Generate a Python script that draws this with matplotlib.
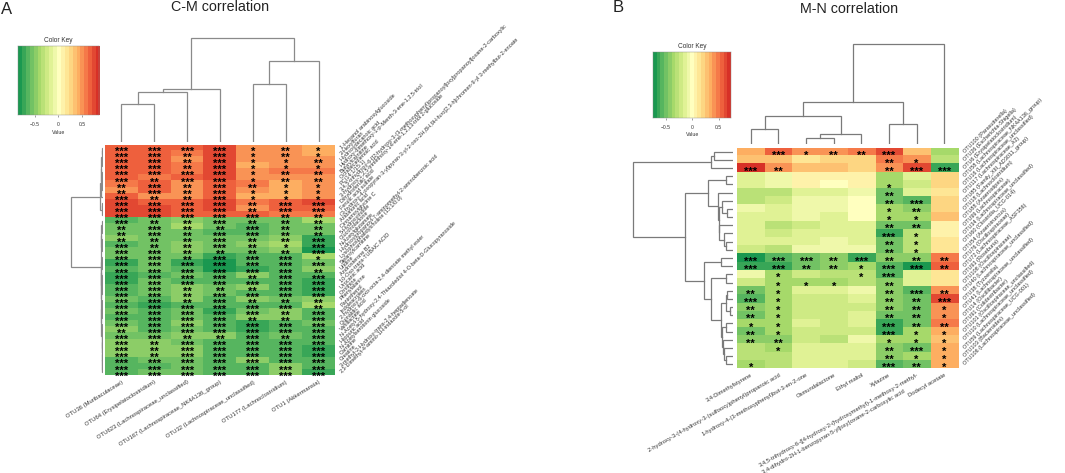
import numpy as np
import matplotlib
matplotlib.use("Agg")
import matplotlib.pyplot as plt
from matplotlib.colors import LinearSegmentedColormap
from matplotlib.transforms import ScaledTranslation

plt.rcParams['font.family'] = ['Liberation Sans', 'DejaVu Sans']

W, H = 1065, 473

# panel A: correlation values, rows top to bottom
a_values = [
    [.62, .62, .62, .70, .47, .47, .40],
    [.62, .62, .58, .70, .47, .47, .42],
    [.62, .62, .50, .70, .47, .45, .50],
    [.62, .66, .55, .70, .40, .47, .45],
    [.62, .66, .60, .70, .47, .54, .58],
    [.66, .58, .64, .75, .47, .50, .50],
    [.56, .66, .52, .68, .55, .42, .45],
    [.52, .66, .52, .68, .47, .42, .45],
    [.62, .52, .50, .68, .42, .42, .45],
    [.74, .68, .66, .74, .60, .62, .70],
    [.76, .74, .66, .70, .50, .66, .68],
    [.76, .74, .62, .64, .64, .57, .55],
    [-.68, -.56, -.50, -.60, -.56, -.54, -.42],
    [-.56, -.58, -.40, -.56, -.64, -.54, -.58],
    [-.56, -.58, -.54, -.66, -.66, -.54, -.58],
    [-.46, -.56, -.54, -.60, -.58, -.46, -.70],
    [-.64, -.56, -.48, -.60, -.46, -.42, -.76],
    [-.54, -.58, -.48, -.54, -.54, -.52, -.78],
    [-.58, -.58, -.54, -.74, -.64, -.66, -.42],
    [-.76, -.58, -.72, -.78, -.62, -.68, -.56],
    [-.68, -.58, -.66, -.78, -.74, -.68, -.50],
    [-.72, -.68, -.60, -.68, -.50, -.66, -.64],
    [-.72, -.58, -.62, -.66, -.62, -.68, -.76],
    [-.66, -.58, -.50, -.58, -.52, -.68, -.76],
    [-.66, -.56, -.52, -.60, -.66, -.64, -.76],
    [-.56, -.66, -.46, -.62, -.52, -.54, -.46],
    [-.64, -.70, -.64, -.64, -.68, -.66, -.44],
    [-.54, -.66, -.54, -.74, -.60, -.48, -.62],
    [-.66, -.66, -.54, -.66, -.46, -.48, -.64],
    [-.54, -.68, -.52, -.64, -.76, -.62, -.60],
    [-.52, -.66, -.60, -.66, -.76, -.64, -.62],
    [-.54, -.56, -.50, -.50, -.64, -.58, -.64],
    [-.52, -.48, -.58, -.66, -.64, -.62, -.66],
    [-.52, -.48, -.52, -.66, -.64, -.64, -.72],
    [-.52, -.48, -.52, -.66, -.64, -.64, -.74],
    [-.64, -.58, -.58, -.66, -.52, -.62, -.64],
    [-.64, -.68, -.54, -.66, -.62, -.52, -.64],
    [-.64, -.54, -.54, -.66, -.62, -.52, -.72],
]

a_stars = [
    "3333121", "3323121", "3323112", "3323111", "3333122", "3233122",
    "2323211", "2323111", "3223111", "3333233", "3333233", "3333322",
    "3223222", "2322322", "2323322", "2223223", "3223213", "3322223",
    "3323331", "3333333", "3333332", "3333233", "3333333", "3322233",
    "3323333", "3323222", "3333332", "3333323", "3333223", "3333333",
    "2333333", "3322323", "3233333", "3233333", "3233333", "3333333",
    "3333333", "3333333",
]

a_cols = ["OTU36 (Muribaculaceae)", "OTU64 (Erysipelatoclostridium)",
          "OTU623 (Lachnospiraceae_unclassified)",
          "OTU167 (Lachnospiraceae_NK4A136_group)",
          "OTU32 (Lachnospiraceae_unclassified)",
          "OTU177 (Lachnoclostridium)", "OTU1 (Akkermansia)"]

a_rows = [
    "1-Hexanol arabinosylglucoside", "2-Hexylfuran", "Hydroxydecanoic acid",
    "Hydroxy-dimethoxy-1-p-Menth-3-ene-1,2,5-triol",
    "Butyrylcarnitine", "Octadecadienoic acid", "PC(14:1/15:1)",
    "3,4,5-trihydroxy-6-[[2-hydroxy-3-(3-methoxyphenyl)propanoyl]oxy]propanoyl]oxane-2-carboxylic",
    "3-hydroxy-1,2,5-trimethoxy-14-ene-1,2,13-triol 2-glucoside",
    "Dihydroferulic acid", "Ferulic acid sulfate",
    "(3-hydroxy-4-oxopyran-3-yl)pyran-3-yl-2-oxo-2H,8H,9H-furo[2,3-h]chromen-9-yl 3-methylbut-2-enoate",
    "Arabinonic acid", "Cinnamoylglycine C", "5-Hydroxyindole",
    "Gluconolactone", "N-Acetylglutamate",
    "Hydroxypropanoyl-7-aminomethyl-2-aminobenzoic acid",
    "Lysophosphatidylcholine (15:1/0:0)", "Stearoylcarnitine", "Uridine",
    "Androsterone B2", "10-Oxo-trans-TUBAIC ACID", "Urocanic acid",
    "Ornithine", "Phenylalanine", "Pantothenol", "Indoleacrolein",
    "2-hydroxy-6-oxo-octa-2,4-dienoate methyl ester", "Quinaldic acid", "Vanillactate",
    "N-Acetyl-5-hydroxy-2,4-Thiazolediol 4-O-beta-D-Glucopyranoside", "Hippuric acid",
    "N-Acetylserotonin glucoside", "Carnitine", "Creatine",
    "3-methyl-2-Hydroxy-trans-2,4-heptadienoate",
    "2,3-Dimethyl-4-amino-1H-indazole-5-ol",
]

# panel A trees, (left, right, height in px)
a_col_tree = (((((0, 1, 38), 2, 50), 3, 53)), ((4, 5, 58), 6, 81), 104)
a_row_top = (((((0, 1, .6), (2, 3, .8), 1.2), ((4, 5, .6), (6, 7, .5), 1), 1.7), 8, 2.0),
             ((9, 10, .7), 11, 1.3), 3)
a_row_bottom = (((12, (13, 14, .6), 1), ((15, 16, .7), 17, 1.2), 1.8),
                (((18, (19, 20, .6), 1), ((21, 22, .6), (23, 24, .6), 1), 1.5),
                 (((25, 26, .7), (27, 28, .7), 1.1),
                  ((29, 30, .6), (31, ((32, 33, .5), (34, (35, (36, 37, .5), .7), .9), 1.0), 1.2), 1.3),
                  1.6), 1.9), 2.3)
a_row_tree = (a_row_top, a_row_bottom, 32)

# panel B
b_values = [
    [.33, .58, .45, .42, .50, .66, .25, -.32],
    [.27, .27, .12, .20, .22, .48, .42, -.28],
    [.70, .42, .28, .27, .24, .40, .62, -.66],
    [-.15, -.04, .04, .06, .06, -.32, -.15, .20],
    [-.15, -.08, .04, 0, .06, -.33, -.22, .20],
    [-.28, -.28, -.14, -.14, -.06, -.48, -.13, .13],
    [-.28, -.22, -.10, -.10, -.02, -.48, -.55, .20],
    [-.10, -.16, -.07, -.09, -.02, -.38, -.42, .20],
    [-.17, -.17, -.10, -.13, -.02, -.38, -.38, .28],
    [-.17, -.30, -.19, -.17, -.15, -.48, -.48, .10],
    [-.16, -.18, -.12, -.12, -.15, -.62, -.28, .07],
    [-.16, -.16, -.12, -.09, -.15, -.48, -.30, .17],
    [-.20, -.27, -.09, -.10, -.06, -.48, -.30, .11],
    [-.68, -.55, -.50, -.45, -.62, -.40, -.45, .48],
    [-.66, -.62, -.50, -.45, -.35, -.58, -.72, .55],
    [-.08, -.38, -.22, -.27, -.30, -.58, -.15, .17],
    [-.22, -.38, -.33, -.33, -.30, -.43, -.15, .17],
    [-.46, -.38, -.15, -.15, -.06, -.45, -.58, .45],
    [-.58, -.38, -.20, -.20, -.14, -.45, -.50, .62],
    [-.43, -.37, -.20, -.20, -.18, -.42, -.48, .42],
    [-.46, -.38, -.24, -.20, -.16, -.52, -.50, .42],
    [-.36, -.38, -.15, -.20, -.16, -.62, -.46, .47],
    [-.46, -.36, -.20, -.20, -.24, -.62, -.38, .38],
    [-.45, -.45, -.20, -.27, -.08, -.37, -.36, .30],
    [-.28, -.32, -.14, -.14, -.16, -.43, -.52, .37],
    [-.28, -.28, -.14, -.14, -.16, -.45, -.35, .38],
    [-.36, -.28, -.14, -.14, -.18, -.58, -.48, .38],
]

b_stars = [
    "03122300", "00000210", "32000233", "00000000", "00000100", "00000200",
    "00000230", "00000120", "00000110", "00000220", "00000310", "00000210",
    "00000210", "33323222", "33221332", "01001300", "01110200", "21000232",
    "31000223", "21000221", "21000221", "11000322", "21000311", "22000111",
    "01000231", "00000211", "10000321",
]

b_cols = ["3,4-Dimethylstyrene",
          "2-hydroxy-3-(4-hydroxy-3-(sulfooxy)phenyl)propanoic acid",
          "1-hydroxy-4-(3-methoxyphenyl)but-3-en-2-one",
          "Osmundalactone", "Ethyl maltol", "Xylazine",
          "3,4,5-trihydroxy-6-{[4-hydroxy-2-(hydroxymethyl)-1-methoxy-2-methyl-\n"
          "3,4-dihydro-2H-1-benzopyran-5-yl]oxy}oxane-2-carboxylic acid",
          "Dodecyl acetate"]

b_rows = [
    "OTU100 (Parasutterella)", "OTU26 (Escherichia-Shigella)",
    "OTU6 (Erysipelatoclostridium)", "OTU58 (Lachnospiraceae_NK4A136_group)",
    "OTU16 (Lachnospiraceae_unclassified)", "OTU117 (Lachnospiraceae_A2)",
    "OTU85 (Family_XIII_AD3011_group)",
    "OTU18 (Lachnoclostridium)", "OTU88 (Anaerostipes)",
    "OTU99 (Lachnospiraceae)", "OTU34 (Lachnospiraceae_unclassified)",
    "OTU60 (Clostridia_UCG-014)", "OTU54 (Anaerotruncus)",
    "OTU76 (Oscillospiraceae)", "OTU72 (Lachnospiraceae_ASF356)",
    "OTU93 (Roseburia)", "OTU108 (Oscillospiraceae)",
    "OTU40 (Lachnospiraceae_unclassified)", "OTU38 (Tyzzerella)",
    "OTU41 (Lachnospiraceae_unclassified)", "OTU14 (Oscillibacter)",
    "OTU91 (Colidextribacter)", "OTU101 (Oscillospiraceae_unclassified)",
    "OTU10 (Lachnospiraceae_unclassified)",
    "OTU59 (Lachnospiraceae_UCG-001)", "OTU103 (Bacteroides)",
    "OTU106 (Lachnospiraceae_unclassified)",
]

b_col_tree = (((( 0, 1, 14.7), ((2, 3, 5.7), 4, 9.7), 27.7), (5, 6, 20), 41.7), 7, 100.3)

b_row_upper = ((0, 1, 19), 2, 22)
b_row_mid = ((3, 4, 7.3),
             (5, ((6, (7, 8, 6.7), 11.7),
                  (9, (10, (11, 12, 7.7), 9), 14), 14), 15.7), 25)
b_row_low = ((13, 14, 12.7),
             ((15, 16, 7.7),
              (((17, 18, 6.7), (19, 20, 3.3), 7.3),
               ((21, 22, 7.3), (23, (24, (25, 26, 7.7), 9), 10), 11.3), 12),
              22.3), 29.7)
b_row_tree = (b_row_upper, (b_row_mid, b_row_low, 48.3), 100)

colors = ["#1a9850", "#66bd63", "#a6d96a", "#d9ef8b", "#ffffbf",
          "#fee08b", "#fdae61", "#f46d43", "#d73027"]
cmap = LinearSegmentedColormap.from_list("key", colors, N=21)

fig = plt.figure(figsize=(W / 100, H / 100), dpi=100)


def px_axes(x0, y0, x1, y1):
    return fig.add_axes([x0 / W, 1 - y1 / H, (x1 - x0) / W, (y1 - y0) / H])


def fig_text(x, y, s, **kw):
    fig.text(x / W, 1 - y / H, s, ha="center", va="center", **kw)


def draw_tree(ax, node, vertical, color, lw):
    if not isinstance(node, tuple):
        return node + 0.5, 0
    p1, h1 = draw_tree(ax, node[0], vertical, color, lw)
    p2, h2 = draw_tree(ax, node[1], vertical, color, lw)
    h = node[2]
    ps, hs = [p1, p1, p2, p2], [h1, h, h, h2]
    if vertical:
        ax.plot(ps, hs, color=color, lw=lw, solid_joinstyle="miter")
    else:
        ax.plot(hs, ps, color=color, lw=lw, solid_joinstyle="miter")
    return (p1 + p2) / 2, h


def panel(box, values, stars, rows, cols, col_tree, row_tree, base_x, base_y,
          vmax, key_box, key_ticks, title, title_x, title_y, letter, letter_x,
          letter_y, key_y, col_rot, line_color):
    x0, y0, x1, y1 = box
    data = np.array(values)
    n_rows, n_cols = data.shape

    ax = px_axes(x0, y0, x1, y1)
    ax.imshow(data, cmap=cmap, vmin=-vmax, vmax=vmax, aspect="auto",
              interpolation="nearest", extent=(0, n_cols, n_rows, 0))
    ax.set_xticks([])
    ax.set_yticks([])
    for s in ax.spines.values():
        s.set_visible(False)

    # the asterisk sits high in its glyph box, so push it down
    star_shift = ax.transData + ScaledTranslation(0, -3.0 / 100, fig.dpi_scale_trans)
    for i, row in enumerate(stars):
        for j, c in enumerate(row):
            if c != "0":
                ax.text(j + 0.5, i + 0.5, "*" * int(c), ha="center",
                        va="center_baseline", fontsize=8, color="black",
                        fontweight="bold", transform=star_shift)

    # row and column labels
    row_h = (y1 - y0) / n_rows
    col_w = (x1 - x0) / n_cols
    for i, lab in enumerate(rows):
        fig.text((x1 + 6) / W, 1 - (y0 + (i + 0.5) * row_h) / H, lab, rotation=45,
                 ha="left", va="center", rotation_mode="anchor", fontsize=4,
                 color="#333333")
    for j, lab in enumerate(cols):
        fig.text((x0 + (j + 0.5) * col_w) / W, 1 - (y1 + 4) / H, lab, rotation=col_rot,
                 ha="right", va="top", rotation_mode="anchor", fontsize=4.2,
                 color="#333333", multialignment="left", linespacing=1.6)

    # dendrograms, one data unit is one pixel in height
    top = px_axes(x0, y0 - 120, x1, base_y)
    top.set_xlim(0, n_cols)
    top.set_ylim(0, base_y - (y0 - 120))
    top.axis("off")
    draw_tree(top, col_tree, True, line_color, 0.9)

    left = px_axes(x0 - 105, y0, base_x, y1)
    left.set_xlim(base_x - (x0 - 105), 0)
    left.set_ylim(n_rows, 0)
    left.axis("off")
    draw_tree(left, row_tree, False, line_color, 0.9)

    # colour key
    kx0, ky0, kx1, ky1 = key_box
    key = px_axes(kx0, ky0, kx1, ky1)
    key.imshow(np.linspace(-vmax, vmax, 200)[None, :], cmap=cmap, vmin=-vmax, vmax=vmax,
               aspect="auto", extent=(-vmax, vmax, 0, 1), interpolation="nearest")
    key.set_yticks([])
    key.set_xticks(key_ticks)
    key.set_xticklabels(["\u22120.5", "0", "0.5"], fontsize=3.6, color="#333333")
    key.tick_params(axis="x", length=1.5, width=0.4, pad=3.5, color="#555555")
    for s in key.spines.values():
        s.set_linewidth(0.3)
        s.set_color("#888888")
    kc = (kx0 + kx1) / 2
    fig_text(kc, key_y[0], "Color Key", fontsize=4.7, color="#333333")
    fig_text(kc, key_y[1], "Value", fontsize=3.8, color="#333333")

    fig_text(title_x, title_y, title, fontsize=10.3, color="#222222")
    fig_text(letter_x, letter_y, letter, fontsize=12, color="#222222")


panel((105, 145, 335, 375.5), a_values, a_stars, a_rows, a_cols, a_col_tree, a_row_tree,
      103, 142, 0.855, (17.7, 45.7, 99, 114.7), [-0.5, 0, 0.5],
      "C-M correlation", 220, 7, "A", 7, 9, (40, 132), 32, "#8a8a8a")
panel((737, 147.7, 958, 368.3), b_values, b_stars, b_rows, b_cols, b_col_tree, b_row_tree,
      733.3, 144, 0.733, (653.3, 51.7, 731, 117.7), [-0.5, 0, 0.5],
      "M-N correlation", 849, 9, "B", 618.5, 8, (46, 134), 30, "#7a7a7a")

fig.savefig("out.png", dpi=100)
